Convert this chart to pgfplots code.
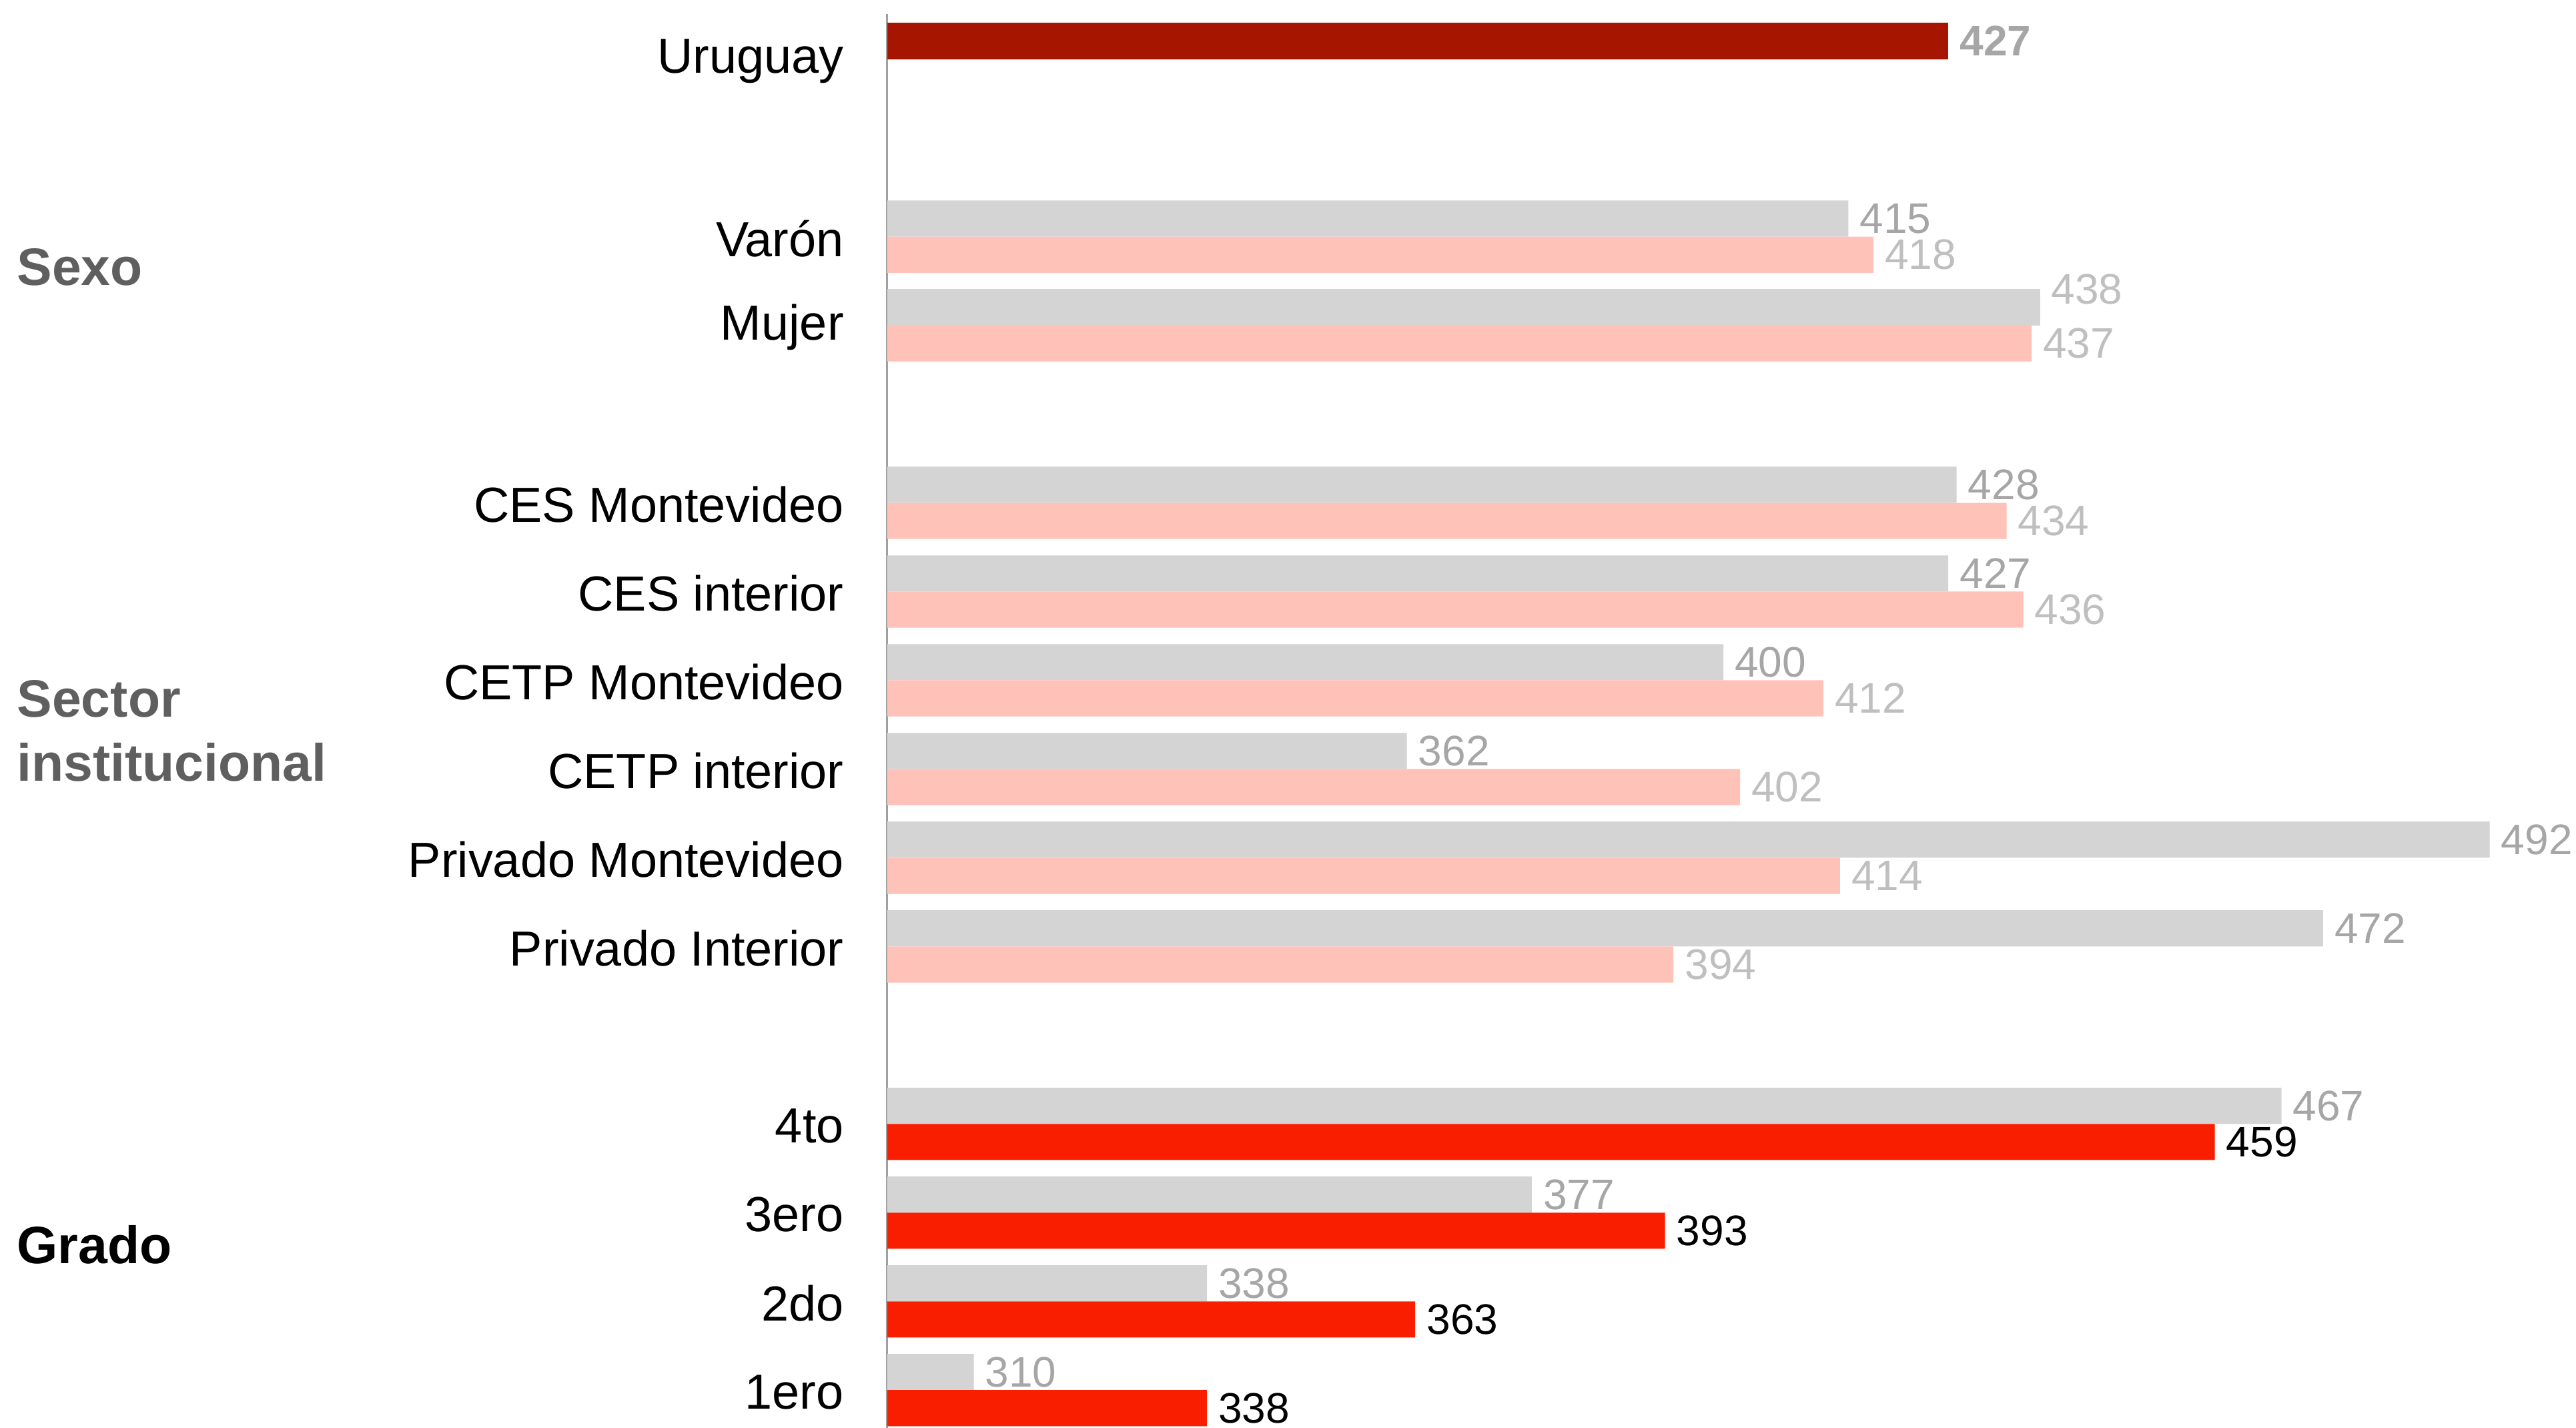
\documentclass[border=0pt]{standalone}
\usepackage{fontspec}
\setmainfont{Liberation Sans}
\usepackage{pgfplots}
\pgfplotsset{compat=1.18}
\definecolor{gbar}{HTML}{D4D4D4}
\definecolor{pbar}{HTML}{FFC2B9}
\definecolor{rbar}{HTML}{FA1E00}
\definecolor{drbar}{HTML}{A61500}
\definecolor{lbldark}{HTML}{A6A6A6}
\definecolor{lbllight}{HTML}{BFBFBF}
\definecolor{axgray}{HTML}{A0A0A0}
\definecolor{grptxt}{HTML}{5F5F5F}
\begin{document}
\begin{tikzpicture}
\begin{axis}[
  scale only axis,
  width=557.7pt, height=430.25pt,
  anchor=north west, at={(0pt,0pt)},
  xmin=299.6, xmax=519.6,
  ymin=-0.509, ymax=15.426,
  y dir=reverse,
  xbar, bar width=0.4074, bar shift=0pt,
  axis lines*=left,
  x axis line style={draw=none},
  y axis line style={draw=axgray, line width=0.5pt, -},
  xtick=\empty,
  ytick={0,2,3,5,6,7,8,9,10,12,13,14,15},
  yticklabels={Uruguay,Varón,Mujer,CES Montevideo,CES interior,CETP Montevideo,CETP interior,Privado Montevideo,Privado Interior,4to,3ero,2do,1ero},
  major tick length=0pt,
  yticklabel style={font=\fontsize{15}{18}\selectfont, text=black, anchor=east, inner sep=0pt, xshift=-13pt, yshift=-0.6pt},
  nodes near coords,
  point meta=explicit symbolic,
  every node near coord/.append style={font=\fontsize{13}{15}\selectfont, anchor=west, inner sep=0pt, xshift=3.3pt},
]
% Uruguay
\addplot[fill=drbar, draw=none, every node near coord/.append style={text=lbldark, font=\bfseries\fontsize{13}{15}\selectfont}]
  coordinates {(427,-0.2037) [427]};
% grey (comparison) bars
\addplot[fill=gbar, draw=none, every node near coord/.append style={text=lbldark}]
  coordinates {
  (415,1.7963) [415]
  (428,4.7963) [428]
  (427,5.7963) [427]
  (400,6.7963) [400]
  (362,7.7963) [362]
  (492,8.7963) [492]
  (472,9.7963) [472]
  (467,11.7963) [467]
  (377,12.7963) [377]
  (338,13.7963) [338]
  (310,14.7963) [310]
  };
% grey bar Mujer (label raised)
\addplot[fill=gbar, draw=none, every node near coord/.append style={text=lbllight, yshift=5.5pt}]
  coordinates {(438,2.7963) [438]};
% pink bars
\addplot[fill=pbar, draw=none, every node near coord/.append style={text=lbllight}]
  coordinates {
  (418,2.2037) [418]
  (437,3.2037) [437]
  (434,5.2037) [434]
  (436,6.2037) [436]
  (412,7.2037) [412]
  (402,8.2037) [402]
  (414,9.2037) [414]
  (394,10.2037) [394]
  };
% red bars
\addplot[fill=rbar, draw=none, every node near coord/.append style={text=black}]
  coordinates {
  (459,12.2037) [459]
  (393,13.2037) [393]
  (363,14.2037) [363]
  (338,15.2037) [338]
  };
\end{axis}
\node[anchor=base west, inner sep=0pt, font=\bfseries\fontsize{16}{19}\selectfont, text=grptxt] at (-265pt,-82.5pt) {Sexo};
\node[anchor=base west, inner sep=0pt, font=\bfseries\fontsize{16}{19}\selectfont, text=grptxt] at (-265pt,-214pt) {Sector};
\node[anchor=base west, inner sep=0pt, font=\bfseries\fontsize{16}{19}\selectfont, text=grptxt] at (-265pt,-233.5pt) {institucional};
\node[anchor=base west, inner sep=0pt, font=\bfseries\fontsize{16}{19}\selectfont, text=black] at (-265pt,-380.25pt) {Grado};
\pgfresetboundingbox
\path[use as bounding box] (-270pt,4.25pt) rectangle (514pt,-430.25pt);
\end{tikzpicture}
\end{document}
